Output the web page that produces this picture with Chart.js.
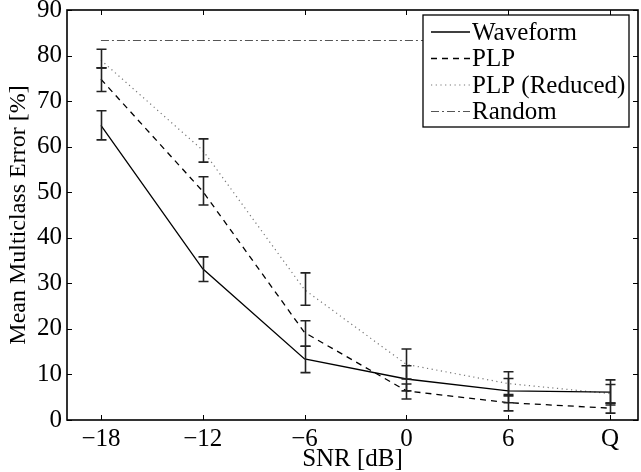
<!DOCTYPE html>
<html>
<head>
<meta charset="utf-8">
<script src="https://cdn.jsdelivr.net/npm/chart.js@4.4.1/dist/chart.umd.min.js"></script>
<style>
  html, body { margin: 0; padding: 0; background: #fff; }
  #wrap { width: 641px; height: 472px; }
</style>
</head>
<body>
<div id="wrap"><canvas id="errChart"></canvas></div>
<script>
// SNR positions (Q = quiet, placed one step after 6 dB)
const snrValues = [-18, -12, -6, 0, 6, 12];
const snrLabels = ['\u221218', '\u221212', '\u22126', '0', '6', 'Q'];
const yTicks = [0, 10, 20, 30, 40, 50, 60, 70, 80, 90];

const waveform = [64.7, 33.2, 13.4, 9.0, 6.4, 6.1];
const waveformLow = [61.5, 30.4, 10.4, 6.4, 3.8, 3.3];
const waveformHigh = [67.9, 35.8, 16.2, 11.9, 9.1, 8.8];

const plp = [74.8, 50.2, 19.2, 6.4, 3.8, 2.6];
const plpLow = [72.1, 47.2, 16.2, 4.6, 2.0, 1.5];
const plpHigh = [77.3, 53.4, 21.8, 7.9, 5.6, 3.7];

const plpReduced = [79.0, 59.2, 28.6, 12.2, 8.0, 5.8];
const plpReducedLow = [77.3, 56.6, 25.2, 9.0, 5.3, 3.7];
const plpReducedHigh = [81.4, 61.7, 32.3, 15.6, 10.6, 7.8];

const random = [83.3, 83.3, 83.3, 83.3, 83.3, 83.3];

const FONT = '"Liberation Serif", "Times New Roman", serif';

function toPoints(ys) {
    return snrValues.map((x, i) => ({ x: x, y: ys[i] }));
}

// error bars, ticks inside the box, frame and legend
const matlabLook = {
    id: 'matlabLook',
    afterDatasetsDraw(chart) {
        const ctx = chart.ctx;
        const xs = chart.scales.x, ys = chart.scales.y;
        ctx.save();
        ctx.strokeStyle = '#222';
        ctx.lineWidth = 1.6;
        ctx.setLineDash([]);
        chart.data.datasets.forEach(ds => {
            if (!ds.errLow) return;
            snrValues.forEach((v, i) => {
                const px = Math.round(xs.getPixelForValue(v)) + 0.5;
                const lo = ys.getPixelForValue(ds.errLow[i]);
                const hi = ys.getPixelForValue(ds.errHigh[i]);
                ctx.beginPath();
                ctx.moveTo(px, lo); ctx.lineTo(px, hi);
                ctx.moveTo(px - 5, lo); ctx.lineTo(px + 5, lo);
                ctx.moveTo(px - 5, hi); ctx.lineTo(px + 5, hi);
                ctx.stroke();
            });
        });
        ctx.restore();
    },
    afterDraw(chart) {
        const ctx = chart.ctx;
        const a = chart.chartArea;
        const xs = chart.scales.x, ys = chart.scales.y;
        ctx.save();
        ctx.strokeStyle = '#000';
        ctx.lineWidth = 1;
        ctx.setLineDash([]);
        ctx.beginPath();
        snrValues.forEach(v => {
            const px = Math.round(xs.getPixelForValue(v)) + 0.5;
            ctx.moveTo(px, a.bottom); ctx.lineTo(px, a.bottom - 5);
            ctx.moveTo(px, a.top); ctx.lineTo(px, a.top + 5);
        });
        yTicks.forEach(v => {
            const py = Math.round(ys.getPixelForValue(v)) + 0.5;
            ctx.moveTo(a.left, py); ctx.lineTo(a.left + 5, py);
            ctx.moveTo(a.right, py); ctx.lineTo(a.right - 5, py);
        });
        ctx.stroke();
        ctx.lineWidth = 1.6;
        ctx.strokeRect(a.left, a.top, a.right - a.left, a.bottom - a.top);

        // legend box
        const bx = 423, by = 15, bw = 206, bh = 112;
        ctx.fillStyle = '#fff';
        ctx.fillRect(bx, by, bw, bh);
        ctx.lineWidth = 1.3;
        ctx.strokeStyle = '#000';
        ctx.strokeRect(bx, by, bw, bh);
        ctx.font = '25px ' + FONT;
        ctx.textBaseline = 'middle';
        ctx.textAlign = 'left';
        chart.data.datasets.forEach((ds, i) => {
            const y = 32 + i * 26.5;
            ctx.strokeStyle = ds.borderColor;
            ctx.lineWidth = ds.borderWidth;
            ctx.setLineDash(ds.borderDash || []);
            ctx.beginPath();
            ctx.moveTo(431, y); ctx.lineTo(470, y);
            ctx.stroke();
            ctx.setLineDash([]);
            ctx.fillStyle = '#000';
            ctx.fillText(ds.label, 472, y + 1);
        });
        ctx.restore();
    }
};

const config = {
    type: 'line',
    data: {
        datasets: [
            {
                label: 'Waveform',
                data: toPoints(waveform),
                errLow: waveformLow,
                errHigh: waveformHigh,
                borderColor: '#000',
                borderWidth: 1.3,
                borderDash: []
            },
            {
                label: 'PLP',
                data: toPoints(plp),
                errLow: plpLow,
                errHigh: plpHigh,
                borderColor: '#000',
                borderWidth: 1.3,
                borderDash: [6, 5]
            },
            {
                label: 'PLP (Reduced)',
                data: toPoints(plpReduced),
                errLow: plpReducedLow,
                errHigh: plpReducedHigh,
                borderColor: '#777',
                borderWidth: 1.2,
                borderDash: [1.2, 3.5]
            },
            {
                label: 'Random',
                data: toPoints(random),
                borderColor: '#555',
                borderWidth: 1.1,
                borderDash: [8, 3, 2, 3]
            }
        ]
    },
    options: {
        responsive: true,
        maintainAspectRatio: false,
        animation: false,
        devicePixelRatio: 1,
        layout: { padding: { top: 10, right: 3, left: 0, bottom: 0 } },
        elements: {
            point: { radius: 0, hoverRadius: 0 },
            line: { tension: 0, fill: false }
        },
        plugins: {
            legend: { display: false },
            tooltip: { enabled: false }
        },
        scales: {
            x: {
                type: 'linear',
                min: -20,
                max: 13.65,
                afterBuildTicks: s => { s.ticks = snrValues.map(v => ({ value: v })); },
                afterFit: s => { s.height = 52; s.paddingLeft = 0; s.paddingRight = 0; },
                grid: { display: false, drawTicks: false },
                border: { display: false },
                ticks: {
                    color: '#000',
                    font: { family: FONT, size: 25 },
                    padding: 4,
                    maxRotation: 0,
                    autoSkip: false,
                    callback: v => snrLabels[snrValues.indexOf(v)]
                },
                title: {
                    display: true,
                    text: 'SNR [dB]',
                    color: '#000',
                    font: { family: FONT, size: 25, lineHeight: 1 },
                    padding: { top: 0, bottom: 0 }
                }
            },
            y: {
                min: 0,
                max: 90,
                afterBuildTicks: s => { s.ticks = yTicks.map(v => ({ value: v })); },
                afterFit: s => { s.width = 67; s.paddingTop = 0; s.paddingBottom = 0; },
                grid: { display: false, drawTicks: false },
                border: { display: false },
                ticks: {
                    color: '#000',
                    font: { family: FONT, size: 25 },
                    padding: 5
                },
                title: {
                    display: true,
                    text: 'Mean Multiclass Error [%]',
                    color: '#000',
                    font: { family: FONT, size: 24, lineHeight: 1.2 },
                    padding: { top: 4, bottom: 0 }
                }
            }
        }
    },
    plugins: [matlabLook]
};

document.addEventListener('DOMContentLoaded', () => {
    new Chart(document.getElementById('errChart'), config);
});
</script>
</body>
</html>
